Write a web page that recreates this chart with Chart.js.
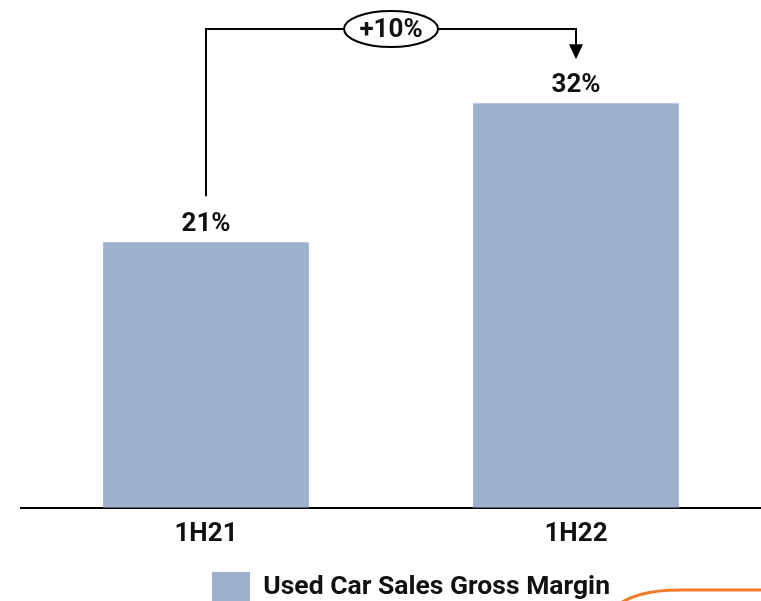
<!DOCTYPE html>
<html>
<head>
<meta charset="utf-8">
<script src="https://cdn.jsdelivr.net/npm/chart.js@4.4.1/dist/chart.umd.min.js"></script>
<style>
  html, body { margin: 0; padding: 0; background: #fff; overflow: hidden; }
  #wrap { width: 761px; height: 601px; overflow: hidden; }
</style>
</head>
<body>
<div id="wrap"><canvas id="marginChart" width="761" height="612"></canvas></div>
<script>
const periods = ['1H21', '1H22'];
const grossMargin = [21, 32];
const seriesName = 'Used Car Sales Gross Margin';
const changeLabel = '+10%';

const barColor = '#9DB0CE';
const fontFamily = 'Roboto, "Liberation Sans", sans-serif';

// value labels above each bar
const valueLabels = {
  id: 'valueLabels',
  afterDatasetsDraw(chart){
    const ctx = chart.ctx;
    const meta = chart.getDatasetMeta(0);
    ctx.save();
    ctx.font = 'bold 26px ' + fontFamily;
    ctx.fillStyle = '#111';
    ctx.textAlign = 'center';
    ctx.textBaseline = 'alphabetic';
    meta.data.forEach((bar, i) => {
      ctx.fillText(grossMargin[i] + '%', bar.x, bar.y - 11);
    });
    ctx.restore();
  }
};

// bracket arrow between the two bars with the change bubble
const changeBracket = {
  id: 'changeBracket',
  afterDatasetsDraw(chart){
    const ctx = chart.ctx;
    const meta = chart.getDatasetMeta(0);
    const from = meta.data[0];
    const to = meta.data[1];
    const topY = 29;
    const startY = from.y - 46;
    const tipY = to.y - 44;

    ctx.save();
    ctx.strokeStyle = '#000';
    ctx.lineWidth = 2;
    ctx.beginPath();
    ctx.moveTo(from.x, startY);
    ctx.lineTo(from.x, topY);
    ctx.lineTo(to.x, topY);
    ctx.lineTo(to.x, tipY - 15);
    ctx.stroke();

    ctx.fillStyle = '#000';
    ctx.beginPath();
    ctx.moveTo(to.x - 7, tipY - 15);
    ctx.lineTo(to.x + 7, tipY - 15);
    ctx.lineTo(to.x, tipY);
    ctx.closePath();
    ctx.fill();

    const cx = (from.x + to.x) / 2;
    ctx.beginPath();
    ctx.ellipse(cx, topY, 47, 18, 0, 0, Math.PI * 2);
    ctx.fillStyle = '#fff';
    ctx.fill();
    ctx.stroke();

    ctx.fillStyle = '#111';
    ctx.font = 'bold 26px ' + fontFamily;
    ctx.textAlign = 'center';
    ctx.textBaseline = 'middle';
    ctx.fillText(changeLabel, cx, topY + 1);
    ctx.restore();
  }
};

// nudge the legend a little right of centre
const legendShift = {
  id: 'legendShift',
  afterLayout(chart){
    if(!chart.legend)return;
    chart.legend.left += 20;
    chart.legend.right += 20;
  }
};

// orange frame corner peeking in at the bottom right
const cornerAccent = {
  id: 'cornerAccent',
  afterDraw(chart){
    const ctx = chart.ctx;
    ctx.save();
    ctx.strokeStyle = '#F47B2A';
    ctx.lineWidth = 3;
    ctx.beginPath();
    ctx.moveTo(614, 608);
    ctx.quadraticCurveTo(634, 590, 680, 590);
    ctx.lineTo(761, 590);
    ctx.stroke();
    ctx.restore();
  }
};

new Chart(document.getElementById('marginChart'), {
  type: 'bar',
  data: {
    labels: periods,
    datasets: [{
      label: seriesName,
      data: grossMargin,
      backgroundColor: barColor,
      borderWidth: 0,
      barPercentage: 0.556,
      categoryPercentage: 1
    }]
  },
  options: {
    responsive: false,
    animation: false,
    devicePixelRatio: 1,
    layout: { padding: { top: 2, left: 21, right: 0, bottom: 0 } },
    plugins: {
      tooltip: { enabled: false },
      legend: {
        position: 'bottom',
        labels: {
          boxWidth: 38,
          boxHeight: 30,
          padding: 11,
          color: '#111',
          font: { family: fontFamily, size: 26.5, weight: 'bold' }
        }
      }
    },
    scales: {
      x: {
        grid: { display: false, drawTicks: false },
        border: { display: true, color: '#000', width: 2 },
        ticks: {
          padding: 11,
          color: '#111',
          font: { family: fontFamily, size: 26, weight: 'bold' }
        }
      },
      y: {
        display: false,
        min: 0,
        max: 40
      }
    }
  },
  plugins: [valueLabels, changeBracket, legendShift, cornerAccent]
});
</script>
</body>
</html>
